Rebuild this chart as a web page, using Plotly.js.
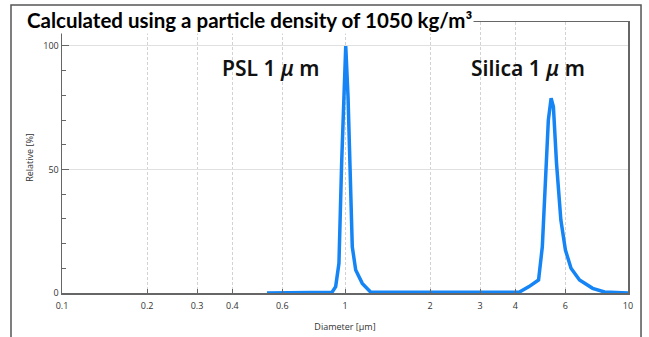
<!DOCTYPE html>
<html>
<head>
<meta charset="utf-8">
<script src="https://cdn.plot.ly/plotly-3.0.1.min.js"></script>
<style>
html,body{margin:0;padding:0;background:#fff;}
#chart{width:649px;height:337px;}
</style>
</head>
<body>
<div id="chart"></div>
<script>
// Diameter (µm) and relative (%) values
const diameter = [0.53, 0.88, 0.90, 0.927, 0.952, 0.973, 0.992, 1.006, 1.025, 1.039, 1.061, 1.091, 1.151, 1.233,
                  4.12, 4.47, 4.83, 4.98, 5.12, 5.23, 5.35, 5.45, 5.59, 5.79, 6.01, 6.29, 6.74, 7.5, 8.26, 10];
const relative = [0, 0, 0.3, 2.6, 12, 52.5, 86, 100, 79.5, 52.5, 18.7, 9.3, 3.9, 0.3,
                  0.3, 2.6, 5.3, 18.7, 45.7, 70, 78.8, 75.4, 52.5, 29.6, 17.4, 10, 5.3, 1.9, 0.4, 0];

const xTickVals = [0.1, 0.2, 0.3, 0.4, 0.6, 1, 2, 3, 4, 6, 10];
const xTickText = ['0.1', '0.2', '0.3', '0.4', '0.6', '1', '2', '3', '4', '6', '10'];
const yTickVals = [0, 50, 100];
const yTickText = ['0', '50', '100'];

const chartTitle = 'Calculated using a particle density of 1050 kg/m³';
const xTitle = 'Diameter [µm]';
const yTitle = 'Relative [%]';
const labelPSL = 'PSL 1 <i>μ</i> m';
const labelSilica = 'Silica 1 <i>μ</i> m';

const tickFont = {family: 'Open Sans, sans-serif', size: 9, color: '#333'};
const axisColor = '#666';

const trace = {
  x: diameter, y: relative, type: 'scatter', mode: 'lines',
  line: {color: '#1585f5', width: 3.5, shape: 'linear'},
  hoverinfo: 'skip'
};

const layout = {
  width: 649, height: 337,
  margin: {l: 62, r: 21, t: 22, b: 44},
  paper_bgcolor: '#fff', plot_bgcolor: '#fff',
  showlegend: false,
  xaxis: {
    type: 'log', range: [-1, 1],
    tickvals: xTickVals, ticktext: xTickText,
    ticks: 'inside', ticklen: 4, tickcolor: axisColor,
    ticklabelstandoff: 4,
    showline: true, linecolor: axisColor, linewidth: 1.5, mirror: true,
    showgrid: true, gridcolor: '#d2d2d2', gridwidth: 1, griddash: '3px,2px',
    zeroline: false, tickfont: tickFont,
    title: {text: xTitle, font: {family: 'Open Sans, sans-serif', size: 9, color: '#333'}, standoff: 12}
  },
  yaxis: {
    range: [0, 109.7],
    tickvals: yTickVals, ticktext: yTickText,
    ticks: 'inside', ticklen: 7, tickcolor: axisColor,
    minor: {dtick: 10, ticks: 'inside', ticklen: 4, tickcolor: axisColor, showgrid: false},
    showline: true, linecolor: axisColor, linewidth: 1.5, mirror: true,
    showgrid: true, gridcolor: '#e0e0e0', gridwidth: 1,
    zeroline: false, tickfont: tickFont,
    title: {text: yTitle, font: {family: 'Open Sans, sans-serif', size: 9, color: '#333'}, standoff: 8}
  },
  shapes: [
    {type: 'path', xref: 'paper', yref: 'paper',
     path: 'M -0.0901 -0.3 L -0.0901 1.0627 L 1.0230 1.0627 L 1.0230 -0.3',
     line: {color: '#555', width: 1.5}, layer: 'below'}
  ],
  annotations: [
    {xref: 'paper', yref: 'paper', x: -0.0654, y: 1.008, xanchor: 'left', yanchor: 'middle',
     text: chartTitle, showarrow: false, bgcolor: '#fff', borderpad: 1,
     font: {family: 'Lato, sans-serif', size: 20.5, color: '#000', weight: 'bold'}},
    {xref: 'paper', yref: 'paper', x: (271 - 62) / 566, y: (293 - 68) / 271, xanchor: 'center', yanchor: 'middle',
     text: labelPSL, showarrow: false,
     font: {family: 'Noto Sans, sans-serif', size: 21, color: '#111', weight: 600}},
    {xref: 'paper', yref: 'paper', x: (528 - 62) / 566, y: (293 - 68) / 271, xanchor: 'center', yanchor: 'middle',
     text: labelSilica, showarrow: false,
     font: {family: 'Noto Sans, sans-serif', size: 21, color: '#111', weight: 600}}
  ]
};

Plotly.newPlot('chart', [trace], layout, {staticPlot: true, displayModeBar: false});
</script>
</body>
</html>
